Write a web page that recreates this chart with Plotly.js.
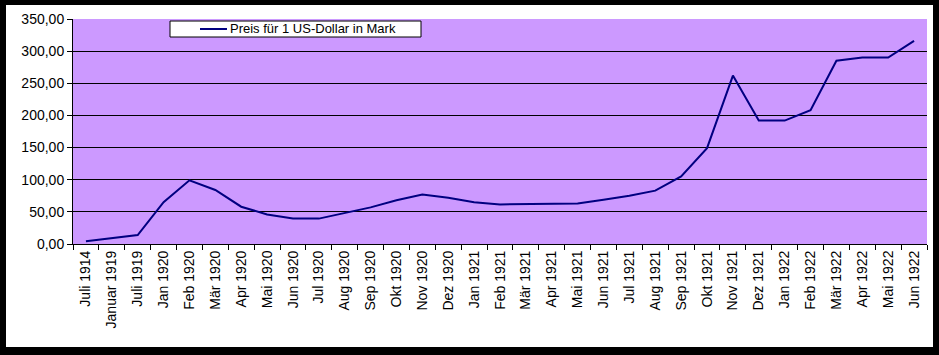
<!DOCTYPE html>
<html>
<head>
<meta charset="utf-8">
<script src="https://cdn.plot.ly/plotly-3.0.1.min.js"></script>
<style>
  html, body { margin: 0; padding: 0; background: #000; width: 939px; height: 355px; overflow: hidden; }
  #chart { position: absolute; left: 6px; top: 5px; width: 927px; height: 342px; background: #fff; }
</style>
</head>
<body>
<div id="chart"></div>
<script>
const months = ["Juli 1914", "Januar 1919", "Juli 1919", "Jan 1920", "Feb 1920", "Mär 1920", "Apr 1920",
  "Mai 1920", "Jun 1920", "Jul 1920", "Aug 1920", "Sep 1920", "Okt 1920", "Nov 1920", "Dez 1920",
  "Jan 1921", "Feb 1921", "Mär 1921", "Apr 1921", "Mai 1921", "Jun 1921", "Jul 1921", "Aug 1921",
  "Sep 1921", "Okt 1921", "Nov 1921", "Dez 1921", "Jan 1922", "Feb 1922", "Mär 1922", "Apr 1922",
  "Mai 1922", "Jun 1922"];
const preis = [4.2, 9, 14, 65, 99, 84, 58, 46, 39.5, 39.5, 48, 57, 68, 77, 72,
  65, 61.5, 62, 63, 63, 69, 75, 83, 105, 149, 262, 192, 192, 208, 285, 290, 290, 316];
const seriesName = "Preis für 1 US-Dollar in Mark";
const gridTicks = [0, 50, 100, 150, 200, 250, 300];
const topTick = [350];

const font = "Liberation Sans, Arial, sans-serif";
const lineColor = "#000080";

const traces = [
  { x: months, y: preis, type: "scatter", mode: "lines", name: seriesName,
    line: { color: lineColor, width: 2 }, showlegend: false },
  { x: months, y: preis, type: "scatter", mode: "lines", yaxis: "y2",
    line: { color: lineColor, width: 0 }, opacity: 0, showlegend: false, hoverinfo: "skip" }
];

const layout = {
  width: 927, height: 342,
  margin: { l: 67, r: 6, t: 14, b: 103, pad: 0 },
  paper_bgcolor: "#ffffff",
  plot_bgcolor: "#CC99FF",
  font: { family: font, size: 14, color: "#000" },
  separators: ",.",
  showlegend: false,
  xaxis: {
    type: "category", range: [-0.5, months.length - 0.5],
    tickangle: -90, ticks: "outside", tickson: "boundaries", ticklen: 5, tickcolor: "#000",
    showline: true, linecolor: "#000", linewidth: 1, showgrid: false,
    tickfont: { family: font, size: 14, color: "#000" }, fixedrange: true
  },
  yaxis: {
    range: [0, 350], tickvals: gridTicks, tickformat: ".2f",
    ticks: "outside", ticklen: 5, tickcolor: "#000",
    showline: true, linecolor: "#000", linewidth: 1,
    showgrid: true, gridcolor: "#000", gridwidth: 1, zeroline: false,
    tickfont: { family: font, size: 14, color: "#000" }, fixedrange: true
  },
  yaxis2: {
    overlaying: "y", side: "left", range: [0, 350], tickvals: topTick, tickformat: ".2f",
    ticks: "outside", ticklen: 5, tickcolor: "#000",
    showgrid: false, showline: false, zeroline: false,
    tickfont: { family: font, size: 14, color: "#000" }, fixedrange: true
  },
  shapes: [
    { type: "rect", xref: "paper", yref: "paper", x0: 0.1136, x1: 0.4075, y0: 0.920, y1: 0.991,
      fillcolor: "#ffffff", line: { color: "#000", width: 1 }, layer: "above" },
    { type: "line", xref: "paper", yref: "paper", x0: 0.1487, x1: 0.1803, y0: 0.9556, y1: 0.9556,
      line: { color: lineColor, width: 2 }, layer: "above" }
  ],
  annotations: [
    { xref: "paper", yref: "paper", x: 0.1815, y: 0.9556, xanchor: "left", yanchor: "middle",
      text: seriesName, showarrow: false, font: { family: font, size: 13, color: "#000" } }
  ]
};

Plotly.newPlot("chart", traces, layout, { displayModeBar: false, staticPlot: true });
</script>
</body>
</html>
